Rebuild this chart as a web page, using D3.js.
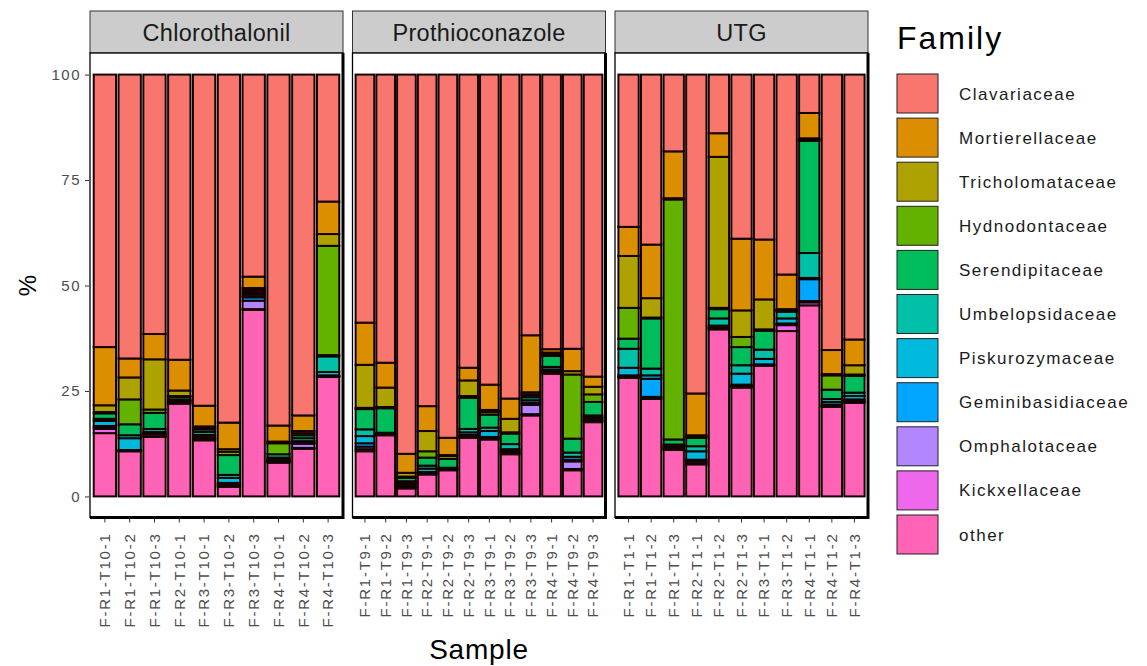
<!DOCTYPE html>
<html>
<head>
<meta charset="utf-8">
<script src="https://cdn.jsdelivr.net/npm/d3@7"></script>
<style>
  body { margin: 0; background: #fff; }
  text { font-family: "Liberation Sans", Arial, sans-serif; }
</style>
</head>
<body>
<div id="datavis"></div>
<script>
// facets and their samples (x order inside each panel)
const treatments = ["Chlorothalonil", "Prothioconazole", "UTG"]
const samplesChloro = ["F-R1-T10-1","F-R1-T10-2","F-R1-T10-3","F-R2-T10-1","F-R3-T10-1","F-R3-T10-2","F-R3-T10-3","F-R4-T10-1","F-R4-T10-2","F-R4-T10-3"]
const samplesProthio = ["F-R1-T9-1","F-R1-T9-2","F-R1-T9-3","F-R2-T9-1","F-R2-T9-2","F-R2-T9-3","F-R3-T9-1","F-R3-T9-2","F-R3-T9-3","F-R4-T9-1","F-R4-T9-2","F-R4-T9-3"]
const samplesUTG = ["F-R1-T1-1","F-R1-T1-2","F-R1-T1-3","F-R2-T1-1","F-R2-T1-2","F-R2-T1-3","F-R3-T1-1","F-R3-T1-2","F-R4-T1-1","F-R4-T1-2","F-R4-T1-3"]

// legend order (top of stack first)
const families = ["Clavariaceae","Mortierellaceae","Tricholomataceae","Hydnodontaceae","Serendipitaceae","Umbelopsidaceae","Piskurozymaceae","Geminibasidiaceae","Omphalotaceae","Kickxellaceae","other"]
const familyColors = ["#F8766D","#DB8E00","#AEA200","#64B200","#00BD5C","#00C1A7","#00BADE","#00A6FF","#B385FF","#EF67EB","#FF63B6"]

// relative abundance (%), samples in order Chlorothalonil | Prothioconazole | UTG
const clavariaceae      = [64.6,67.3,61.5,67.6,78.5,82.5,47.9,83.2,80.8,30.1, 58.8,68.3,89.9,78.6,86.1,69.5,73.5,76.8,61.8,65.1,65.0,71.6, 36.1,40.3,18.2,75.6,13.9,38.9,39.1,47.4,9.1,65.3,62.8]
const mortierellaceae   = [13.8,4.5,6.0,7.3,4.9,6.3,2.7,3.8,3.7,7.7, 10.0,5.9,4.5,5.9,4.1,3.0,6.0,4.8,13.5,0.8,5.3,2.4, 6.9,12.7,11.1,9.9,5.6,17.0,14.2,8.2,6.0,5.7,6.1]
const tricholomataceae  = [1.6,5.2,11.9,1.3,0.4,0.6,0.4,0.4,0.5,2.8, 10.2,4.6,0.9,4.8,0.2,3.7,0.5,3.2,0.5,0.4,0.8,1.8, 12.3,4.6,0.3,0.3,35.8,6.3,7.1,0.2,0.3,0.3,2.2]
const hydnodontaceae    = [0.3,5.9,0.8,0.2,0.3,0.8,0.5,2.6,0.5,25.9, 0.3,0.3,0.3,1.5,0.7,0.4,0.6,0.3,0.2,0.4,15.2,1.8, 7.3,0.2,56.9,0.3,0.3,2.4,0.3,0.2,0.3,3.4,0.3]
const serendipitaceae   = [1.3,2.6,3.8,0.6,0.6,4.7,0.5,0.8,0.7,0.3, 4.8,5.8,0.8,1.9,2.1,7.4,3.1,2.5,0.5,2.6,3.3,3.2, 2.4,11.9,1.2,2.0,2.2,4.3,4.5,0.2,26.6,2.2,4.0]
const umbelopsidaceae   = [0.5,0.7,0.7,0.2,0.7,0.7,0.5,0.4,0.7,3.7, 1.6,0.2,0.3,0.7,0.2,0.8,0.8,1.2,0.7,0.6,1.0,0.4, 4.5,1.6,0.2,1.2,1.7,2.0,2.2,1.6,5.9,0.7,0.8]
const piskurozymaceae   = [1.2,2.8,0.3,0.2,0.4,1.2,0.3,0.2,0.4,0.8, 1.7,0.1,0.3,0.8,0.1,0.6,1.4,0.4,0.6,0.3,0.7,0.3, 1.8,0.8,0.3,2.0,0.3,2.6,1.3,1.2,0.3,0.6,0.8]
const geminibasidiaceae = [0.4,0.1,0.2,0.1,0.3,0.3,0.8,0.2,0.2,0.2, 0.8,0.1,0.4,0.2,0.1,0.3,0.2,0.3,0.5,0.3,0.4,0.3, 0.2,4.3,0.3,0.4,0.2,0.3,0.1,0.2,5.2,0.2,0.4]
const omphalotaceae     = [0.3,0.1,0.5,0.4,0.3,0.3,2.0,0.2,1.0,0.1, 0.6,0.1,0.4,0.2,0.1,0.2,0.2,0.3,2.2,0.2,1.8,0.3, 0.2,0.3,0.3,0.5,0.2,0.2,0.1,0.2,0.3,0.2,0.2]
const kickxellaceae     = [1.0,0.1,0.2,0.1,0.3,0.3,0.2,0.2,0.2,0.1, 0.5,0.1,0.3,0.2,0.1,0.2,0.2,0.2,0.3,0.2,0.3,0.3, 0.2,0.2,0.2,0.2,0.2,0.2,0.1,1.4,0.7,0.2,0.2]
const other             = [15.0,10.7,14.1,22.0,13.3,2.3,44.2,8.0,11.3,28.3, 10.7,14.5,1.9,5.2,6.2,13.9,13.5,10.0,19.2,29.1,6.2,17.6, 28.1,23.1,11.0,7.6,39.6,25.8,31.0,39.2,45.3,21.2,22.2]

const yTicks = [0, 25, 50, 75, 100]

const seriesValues = [clavariaceae, mortierellaceae, tricholomataceae, hydnodontaceae, serendipitaceae,
  umbelopsidaceae, piskurozymaceae, geminibasidiaceae, omphalotaceae, kickxellaceae, other]
const panelSamples = [samplesChloro, samplesProthio, samplesUTG]

// build one row per sample
const allSamples = [].concat(...panelSamples)
const rows = allSamples.map((s, i) => {
  const o = { sample: s, treatment: treatments[panelSamples.findIndex(p => p.includes(s))] }
  families.forEach((f, k) => { o[f] = seriesValues[k][i] })
  return o
})

const W = 1147, H = 666
const svg = d3.select("#datavis").append("svg")
  .attr("width", W).attr("height", H)

const panelLeft = 90, panelW = 253, panelGap = 9.5
const stripTop = 11, stripBottom = 53, panelBottom = 517.5

const y = d3.scaleLinear().domain([-5, 105]).range([panelBottom, stripBottom + 0.5])
const color = d3.scaleOrdinal().domain(families).range(familyColors)

// stacked bottom -> top, so "other" sits at the bottom
const stack = d3.stack().keys(families.slice().reverse())

treatments.forEach((t, i) => {
  const x0 = panelLeft + i * (panelW + panelGap)
  const pData = rows.filter(r => r.treatment === t)
  const x = d3.scaleBand()
    .domain(pData.map(d => d.sample))
    .range([x0, x0 + panelW])
    .paddingInner(0.1)
    .paddingOuter(0.15)

  const g = svg.append("g")

  // strip
  g.append("rect")
    .attr("x", x0).attr("y", stripTop)
    .attr("width", panelW).attr("height", stripBottom - stripTop)
    .attr("fill", "#cccccc").attr("stroke", "#333").attr("stroke-width", 1)
  g.append("text")
    .attr("x", x0 + panelW / 2).attr("y", (stripTop + stripBottom) / 2 + 1)
    .attr("text-anchor", "middle").attr("dominant-baseline", "central")
    .attr("font-size", 23.5).style("letter-spacing", "0.3px")
    .attr("fill", "#1a1a1a").text(t)

  // panel background
  g.append("rect")
    .attr("x", x0).attr("y", stripBottom)
    .attr("width", panelW).attr("height", panelBottom - stripBottom)
    .attr("fill", "white")

  // bars
  g.append("g").selectAll("g")
    .data(stack(pData))
    .join("g")
      .attr("fill", d => color(d.key))
    .selectAll("rect")
    .data(d => d)
    .join("rect")
      .attr("x", d => x(d.data.sample))
      .attr("width", x.bandwidth())
      .attr("y", d => y(d[1]))
      .attr("height", d => y(d[0]) - y(d[1]))
      .attr("stroke", "#140000")
      .attr("stroke-width", 2)

  // panel border, heavier on right and bottom
  g.append("rect")
    .attr("x", x0).attr("y", stripBottom)
    .attr("width", panelW).attr("height", panelBottom - stripBottom)
    .attr("fill", "none").attr("stroke", "black").attr("stroke-width", 1.3)
  g.append("path")
    .attr("d", `M${x0 + panelW},${stripBottom}V${panelBottom}H${x0}`)
    .attr("fill", "none").attr("stroke", "black").attr("stroke-width", 3)

  // x axis
  const xa = g.append("g").attr("transform", `translate(0,${panelBottom + 1})`)
    .call(d3.axisBottom(x).tickSize(4).tickSizeOuter(0))
  xa.select(".domain").remove()
  xa.selectAll(".tick line").attr("stroke", "#333")
  xa.selectAll(".tick text")
    .attr("font-size", 15).attr("fill", "#4d4d4d")
    .style("letter-spacing", "1.75px")
    .attr("transform", "rotate(-90)")
    .attr("text-anchor", "end")
    .attr("dy", "0.35em")
    .attr("x", -14).attr("y", 0)
})

// y axis
const ya = svg.append("g").attr("transform", `translate(${panelLeft - 1},0)`)
  .call(d3.axisLeft(y).tickValues(yTicks).tickSize(4).tickSizeOuter(0))
ya.select(".domain").remove()
ya.selectAll(".tick line").attr("stroke", "#333")
ya.selectAll(".tick text").attr("font-size", 15).attr("fill", "#4d4d4d")
  .style("letter-spacing", "1.5px").attr("x", -8)

// axis titles
svg.append("text")
  .attr("transform", `translate(27,${y(50)}) rotate(-90)`)
  .attr("text-anchor", "middle").attr("dominant-baseline", "central")
  .attr("font-size", 24).text("%")
svg.append("text")
  .attr("x", panelLeft + (3 * panelW + 2 * panelGap) / 2).attr("y", 659)
  .attr("text-anchor", "middle").attr("font-size", 28)
  .style("letter-spacing", "0.8px").text("Sample")

// legend
const legend = svg.append("g").attr("transform", "translate(897,0)")
legend.append("text").attr("x", 0).attr("y", 49)
  .attr("font-size", 32).style("letter-spacing", "2px").text("Family")
const keyRow = 44.1
const items = legend.selectAll("g.item")
  .data(families)
  .join("g")
    .attr("class", "item")
    .attr("transform", (d, i) => `translate(0,${74 + i * keyRow})`)
items.append("rect")
  .attr("width", 41).attr("height", 39)
  .attr("fill", d => color(d)).attr("stroke", "#222").attr("stroke-width", 1)
items.append("text")
  .attr("x", 62).attr("y", 20).attr("dominant-baseline", "central")
  .attr("font-size", 17).style("letter-spacing", "1.5px")
  .attr("fill", "#1a1a1a").text(d => d)
</script>
</body>
</html>
